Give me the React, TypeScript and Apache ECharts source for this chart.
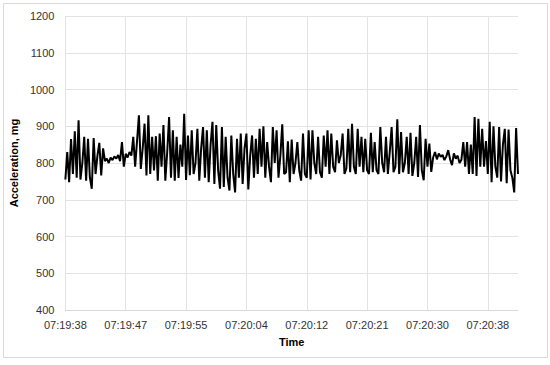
import React, { useEffect, useRef } from "react";
import * as echarts from "echarts";

const tickLabels = [
  "07:19:38",
  "07:19:47",
  "07:19:55",
  "07:20:04",
  "07:20:12",
  "07:20:21",
  "07:20:30",
  "07:20:38",
];

const yTicks = { min: 400, max: 1200, step: 100 };
const samplesPerLabel = 32;

// acceleration readings (mg)
const segStart = [755, 830, 748, 865, 770, 886, 760, 916, 755, 800, 871, 752, 866, 760, 730, 868, 770, 820, 855, 766, 840];
const segCalm1 = [805, 812, 800, 815, 808, 818, 812, 822, 805, 857, 790, 825, 815, 830, 820];
const segActive1 = [
  871, 790, 860, 930, 784, 840, 907, 766, 930, 770, 871, 780, 873, 752, 880, 790, 903, 752, 830, 925,
  760, 889, 752, 871, 759, 850, 790, 934, 754, 875, 767, 889, 770, 800, 893, 752, 840, 898, 760, 889,
  748, 850, 912, 743, 903, 780, 730, 898, 735, 871, 760, 725, 875, 770, 720, 866, 760, 880, 743, 840,
  880, 728, 820, 875, 760, 866, 770, 893, 790, 900, 760, 857, 790, 748, 898, 800, 889, 760, 820, 905,
  770, 775, 859, 748, 864, 770, 800, 857, 780, 752, 880, 770, 760, 889, 755, 889, 800, 770, 871, 775,
  760, 875, 790, 889, 770, 880, 790, 775, 862, 800, 821, 880, 770, 785, 893, 775, 907, 790, 770, 893,
  790, 871, 775, 866, 780, 770, 882, 775, 857, 780, 770, 898, 800, 775, 871, 770, 830, 898, 775, 790,
  919, 770, 884, 775, 800, 871, 770, 882, 765, 800, 871, 762, 903, 780, 753, 866, 790, 853, 776,
];
const segCalm2 = [815, 830, 810, 826, 817, 822, 808, 818, 835, 810, 794, 826, 812, 820, 800, 809];
const segEnd = [
  857, 790, 857, 770, 850, 770, 925, 765, 920, 790, 893, 790, 860, 770, 912, 748, 900, 790, 760, 898,
  750, 850, 893, 745, 891, 780, 760, 720, 895, 770,
];

const values = [...segStart, ...segCalm1, ...segActive1, ...segCalm2, ...segEnd];
const categories = values.map((_, i) => String(i));

const FONT = "'Liberation Sans', Arial, sans-serif";

export default function App() {
  const ref = useRef<HTMLDivElement>(null);

  useEffect(() => {
    document.body.style.margin = "0";
    if (!ref.current) return;
    const chart = echarts.init(ref.current, undefined, { renderer: "svg" });
    const isLabel = (i: number) => i % samplesPerLabel === 0;
    chart.setOption({
      animation: false,
      backgroundColor: "#ffffff",
      graphic: [
        {
          type: "rect",
          shape: { x: 3.5, y: 3.5, width: 544, height: 354 },
          style: { fill: "none", stroke: "#d9d9d9", lineWidth: 1 },
          silent: true,
        },
      ],
      grid: { left: 64, right: 32, top: 16, bottom: 55 },
      xAxis: {
        type: "category",
        data: categories,
        boundaryGap: false,
        name: "Time",
        nameLocation: "middle",
        nameGap: 26,
        nameTextStyle: { fontFamily: FONT, fontSize: 11, fontWeight: "bold", color: "#000000" },
        axisLine: { show: true, lineStyle: { color: "#d9d9d9", width: 1 } },
        axisTick: { show: false },
        axisLabel: {
          interval: (i: number) => isLabel(i),
          formatter: (_v: string, i: number) => (isLabel(i) ? tickLabels[i / samplesPerLabel] ?? "" : ""),
          fontFamily: FONT,
          fontSize: 11,
          color: "#333333",
          margin: 9,
        },
        splitLine: {
          show: true,
          interval: (i: number) => isLabel(i),
          lineStyle: { color: "#e3e3e3", width: 1 },
        },
      },
      yAxis: {
        type: "value",
        min: yTicks.min,
        max: yTicks.max,
        interval: yTicks.step,
        name: "Acceleration, mg",
        nameLocation: "middle",
        nameGap: 31,
        nameTextStyle: { fontFamily: FONT, fontSize: 11, fontWeight: "bold", color: "#000000" },
        axisLine: { show: false },
        axisTick: { show: false },
        axisLabel: {
          fontFamily: FONT,
          fontSize: 11,
          color: "#333333",
          margin: 11,
          formatter: (v: number) => String(v),
        },
        splitLine: { lineStyle: { color: "#e3e3e3", width: 1 } },
      },
      series: [
        {
          type: "line",
          data: values,
          showSymbol: false,
          lineStyle: { color: "#000000", width: 2 },
        },
      ],
    });
    return () => chart.dispose();
  }, []);

  return <div ref={ref} style={{ width: 550, height: 365 }} />;
}
